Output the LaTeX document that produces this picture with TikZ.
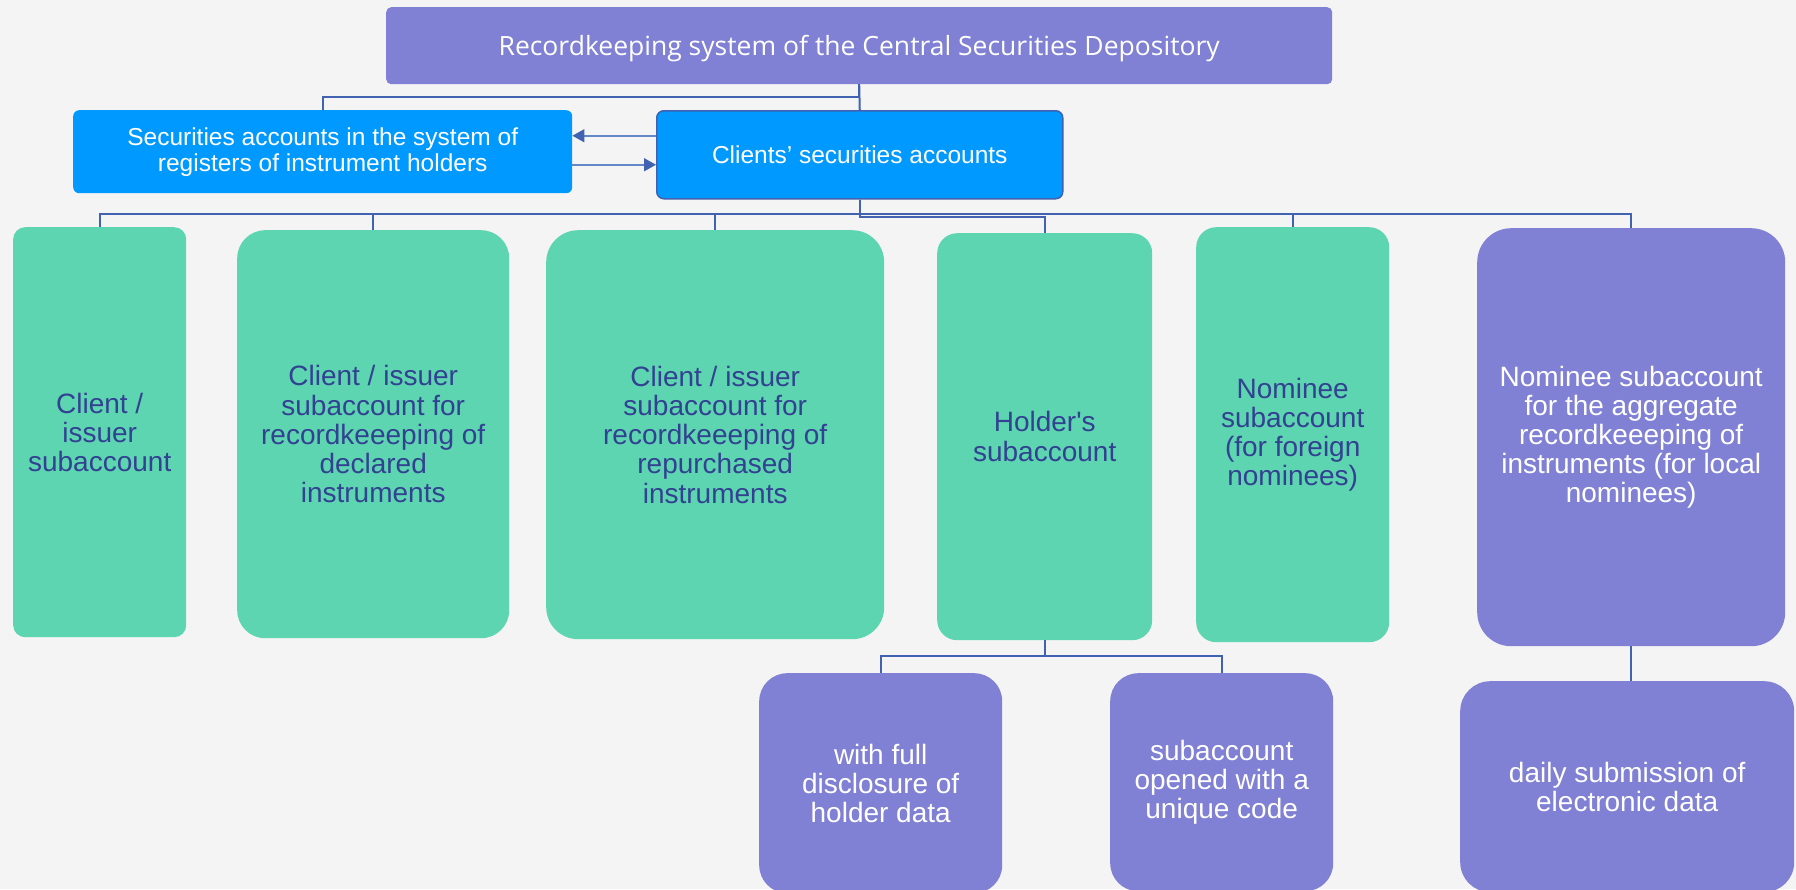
\documentclass[tikz,border=0pt]{standalone}
\usepackage{fontspec}
\setmainfont{Liberation Sans}[Ligatures=TeXOff]
\newfontfamily\titlefont{Open Sans}
\usetikzlibrary{arrows.meta,calc}
\definecolor{bgc}{RGB}{244,244,244}
\definecolor{purp}{RGB}{128,128,212}
\definecolor{blu}{RGB}{0,153,255}
\definecolor{grn}{RGB}{93,213,176}
\definecolor{txtd}{RGB}{50,65,145}
\definecolor{lnc}{RGB}{64,98,176}
\definecolor{arrc}{RGB}{100,135,200}
\tikzset{
  boxbase/.style={anchor=north west, inner sep=0pt, align=center},
  purpbox/.style={boxbase, fill=purp, text=white},
  blubox/.style={boxbase, fill=blu, text=white, font=\fontsize{24.5}{26}\selectfont},
  grnbox/.style={boxbase, fill=grn, text=txtd, font=\fontsize{28}{29.2}\selectfont},
  bigtxt/.style={font=\fontsize{28}{29.2}\selectfont},
  conn/.style={draw=lnc, line width=2pt},
  arr/.style={draw=arrc, line width=1.6pt, -{Triangle[length=12pt,width=13pt,fill=lnc,color=lnc]}},
}
\begin{document}
\begin{tikzpicture}[x=1pt,y=-1pt]
\useasboundingbox (0,0) rectangle (1796,889);
\fill[bgc] (0,0) rectangle (1796,889);
\clip (0,0) rectangle (1796,889);
% top
\node[purpbox, rounded corners=5pt, minimum width=946pt, minimum height=77pt, font=\titlefont\fontsize{26.5}{28}\selectfont] (top) at (386,7) {\raisebox{-10pt}[0pt][0pt]{Recordkeeping system of the Central Securities Depository}};
% second row
\node[blubox, rounded corners=6pt, minimum width=499pt, minimum height=83pt] (left) at (73,110) {Securities accounts in the system of\\registers of instrument holders};
\node[blubox, draw=lnc, line width=1.5pt, rounded corners=7pt, minimum width=406pt, minimum height=88pt] (clients) at (656,110) {Clients’ securities accounts};
% children
\node[grnbox, rounded corners=12pt, minimum width=173pt, minimum height=410pt] (c1) at (13,227) {Client /\\issuer\\subaccount};
\node[grnbox, rounded corners=28pt, minimum width=272pt, minimum height=408pt] (c2) at (237,230) {Client / issuer\\subaccount for\\recordkeeeping of\\declared\\instruments};
\node[grnbox, rounded corners=32pt, minimum width=338pt, minimum height=409pt] (c3) at (546,230) {Client / issuer\\subaccount for\\recordkeeeping of\\repurchased\\instruments};
\node[grnbox, rounded corners=20pt, minimum width=215pt, minimum height=407pt] (c4) at (937,233) {Holder's\\[1pt]subaccount};
\node[grnbox, rounded corners=20pt, minimum width=193pt, minimum height=415pt] (c5) at (1196,227) {Nominee\\subaccount\\(for foreign\\nominees)};
\node[purpbox, bigtxt, rounded corners=34pt, minimum width=308pt, minimum height=418pt] (c6) at (1477,228) {Nominee subaccount\\for the aggregate\\recordkeeeping of\\instruments (for local\\nominees)};
% bottom
\node[purpbox, bigtxt, rounded corners=28pt, minimum width=243pt, minimum height=220pt] (ba) at (759,673) {with full\\disclosure of\\holder data};
\node[purpbox, bigtxt, rounded corners=28pt, minimum width=223pt, minimum height=218pt] (bb) at (1110,673) {subaccount\\opened with a\\unique code};
\node[purpbox, bigtxt, rounded corners=30pt, minimum width=334pt, minimum height=211pt] (bc) at (1460,681) {daily submission of\\electronic data};
% connectors
\draw[conn] (top.south) -- ++(0,13) -| (left.north);
\draw[conn] (top.south) -- (clients.north);
\draw[conn] (clients.south) -- ++(0,14) -| (c1.north);
\draw[conn] (clients.south) -- ++(0,14) -| (c2.north);
\draw[conn] (clients.south) -- ++(0,14) -| (c3.north);
\draw[conn] (clients.south) -- ++(0,17) -| (c4.north);
\draw[conn] (clients.south) -- ++(0,14) -| (c5.north);
\draw[conn] (clients.south) -- ++(0,14) -| (c6.north);
\draw[conn] (c4.south) -- ++(0,16) -| (ba.north);
\draw[conn] (c4.south) -- ++(0,16) -| (bb.north);
\draw[conn] (c6.south) -- (c6.south |- bc.north);
% arrows
\coordinate (a1) at ([yshift=19pt]clients.west);
\coordinate (a2) at ([yshift=-10pt]clients.west);
\draw[arr] (a1) -- (a1 -| left.east);
\draw[arr] (a2 -| left.east) -- (a2);
\end{tikzpicture}
\end{document}
